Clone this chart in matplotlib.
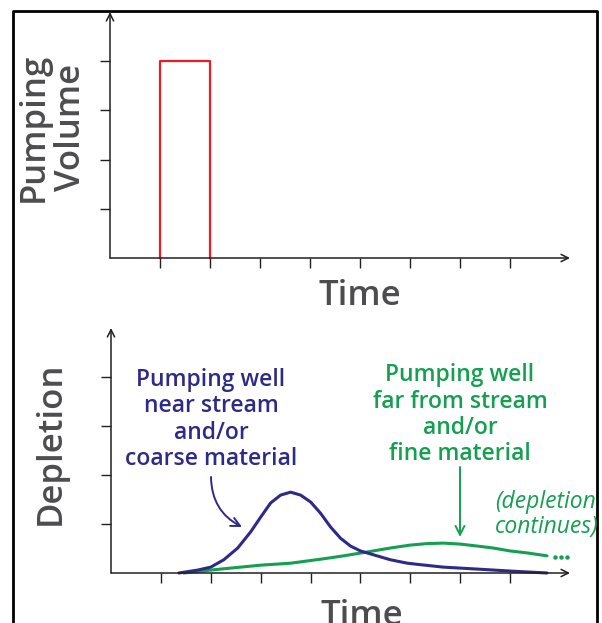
import matplotlib
matplotlib.use("Agg")
import matplotlib.pyplot as plt
from matplotlib.lines import Line2D
from matplotlib.patches import FancyArrowPatch

# ----------------------------
# Daten (Einheiten = Tick-Abstände)
# ----------------------------
pump_x = [1, 1, 2, 2]
pump_y = [0, 4, 4, 0]

near_x = [1.36, 1.74, 2.0, 2.26, 2.54, 2.8, 3.0, 3.2, 3.4, 3.6, 3.8, 4.0, 4.2,
          4.4, 4.6, 4.8, 5.0, 5.2, 5.4, 5.6, 5.94, 6.2, 6.66, 7.34, 8.0, 8.74]
near_y = [0.0, 0.06, 0.12, 0.27, 0.51, 0.84, 1.14, 1.43, 1.59, 1.65, 1.59, 1.45, 1.22,
          0.94, 0.71, 0.55, 0.45, 0.39, 0.33, 0.27, 0.2, 0.17, 0.12, 0.08, 0.04, 0.0]

far_x = [1.46, 2.0, 3.0, 3.6, 4.26, 4.66, 5.14, 5.6, 6.0, 6.34, 6.66, 7.0, 7.34,
         7.66, 8.0, 8.34, 8.74]
far_y = [0.0, 0.06, 0.16, 0.2, 0.29, 0.35, 0.43, 0.51, 0.57, 0.6, 0.61, 0.59, 0.55,
         0.51, 0.45, 0.41, 0.35]

dots_x = [8.9, 9.02, 9.14]
dots_y = [0.33, 0.33, 0.33]

x_ticks = [1, 2, 3, 4, 5, 6, 7, 8]
y_ticks = [1, 2, 3, 4]

# Farben
RED   = "#ed1c24"
NAVY  = "#2e2a87"
GREEN = "#14a050"
GREY  = "#4d4d4f"
AXC   = "#231f20"

W, H = 602, 623
FONT = "Open Sans"

def fx(px):
    return px / W

def fy(py):
    return 1 - py / H

fig = plt.figure(figsize=(W / 100, H / 100), dpi=100)

# Rahmen (unten offen)
fig.add_artist(Line2D([fx(13), fx(13), fx(597), fx(597)],
                      [fy(640), fy(11), fy(11), fy(640)],
                      color="black", lw=2, transform=fig.transFigure))

def make_axes(ox, oy, w, h):
    ax = fig.add_axes([fx(ox), fy(oy), w / W, h / H])
    ax.set_xlim(0, 9.2)
    ax.set_ylim(0, 5)
    for s in ax.spines.values():
        s.set_visible(False)
    ax.set_xticks(x_ticks)
    ax.set_yticks(y_ticks)
    ax.tick_params(direction="out", length=7, width=1, colors=AXC,
                   labelbottom=False, labelleft=False)
    ax.patch.set_alpha(0)
    arrow = dict(arrowstyle="->", lw=1.1, color=AXC, shrinkA=0, shrinkB=0,
                 mutation_scale=13)
    ax.annotate("", xy=(9.2, 0), xytext=(0, 0), arrowprops=arrow, annotation_clip=False)
    ax.annotate("", xy=(0, 5), xytext=(0, 0), arrowprops=arrow, annotation_clip=False)
    return ax

# ----------------------------
# Oben: Pumpvolumen
# ----------------------------
ax1 = make_axes(110, 258, 460, 246)
ax1.plot(pump_x, pump_y, color=RED, lw=1.6, clip_on=False)

fig.text(fx(52), fy(127), "Pumping\nVolume", rotation=90, ha="center", va="center",
         multialignment="center", fontsize=25, fontweight="semibold",
         family=FONT, color=GREY, linespacing=1.12)
fig.text(fx(360), fy(305), "Time", ha="center", va="baseline", fontsize=25,
         fontweight="semibold", family=FONT, color=GREY)

# ----------------------------
# Unten: Depletion
# ----------------------------
ax2 = make_axes(111, 573, 459, 245)
ax2.plot(far_x, far_y, color=GREEN, lw=2.2, solid_capstyle="round",
         solid_joinstyle="round", clip_on=False)
ax2.plot(near_x, near_y, color=NAVY, lw=2.2, solid_capstyle="round",
         solid_joinstyle="round", clip_on=False)
ax2.plot(dots_x, dots_y, "o", color=GREEN, ms=2.2, clip_on=False)

fig.text(fx(51), fy(443), "Depletion", rotation=90, ha="center", va="center",
         fontsize=25, fontweight="semibold", family=FONT, color=GREY)
fig.text(fx(362), fy(625), "Time", ha="center", va="baseline", fontsize=25,
         fontweight="semibold", family=FONT, color=GREY)

# Beschriftungen (va=baseline bezieht sich auf die letzte Zeile)
fig.text(fx(211), fy(465), "Pumping well\nnear stream\nand/or\ncoarse material",
         ha="center", va="baseline", multialignment="center", fontsize=16.5,
         fontweight="semibold", family=FONT, color=NAVY, linespacing=1.125)
fig.text(fx(460), fy(460), "Pumping well\nfar from stream\nand/or\nfine material",
         ha="center", va="baseline", multialignment="center", fontsize=16.5,
         fontweight="semibold", family=FONT, color=GREEN, linespacing=1.125)
fig.text(fx(495), fy(533), "(depletion\ncontinues)", ha="left", va="baseline",
         fontsize=16.5, fontstyle="italic", family=FONT,
         color=GREEN, linespacing=1.05)

# Pfeile zu den Kurven
fig.add_artist(FancyArrowPatch(
    (fx(211), fy(477)), (fx(242), fy(527)), transform=fig.transFigure,
    arrowstyle="->", connectionstyle="arc3,rad=0.3", color=NAVY, lw=1.4,
    mutation_scale=16, shrinkA=0, shrinkB=0))
fig.add_artist(FancyArrowPatch(
    (fx(460), fy(467)), (fx(460), fy(537)), transform=fig.transFigure,
    arrowstyle="->", color=GREEN, lw=1.4, mutation_scale=16, shrinkA=0, shrinkB=0))

fig.savefig("out.png", dpi=100)
